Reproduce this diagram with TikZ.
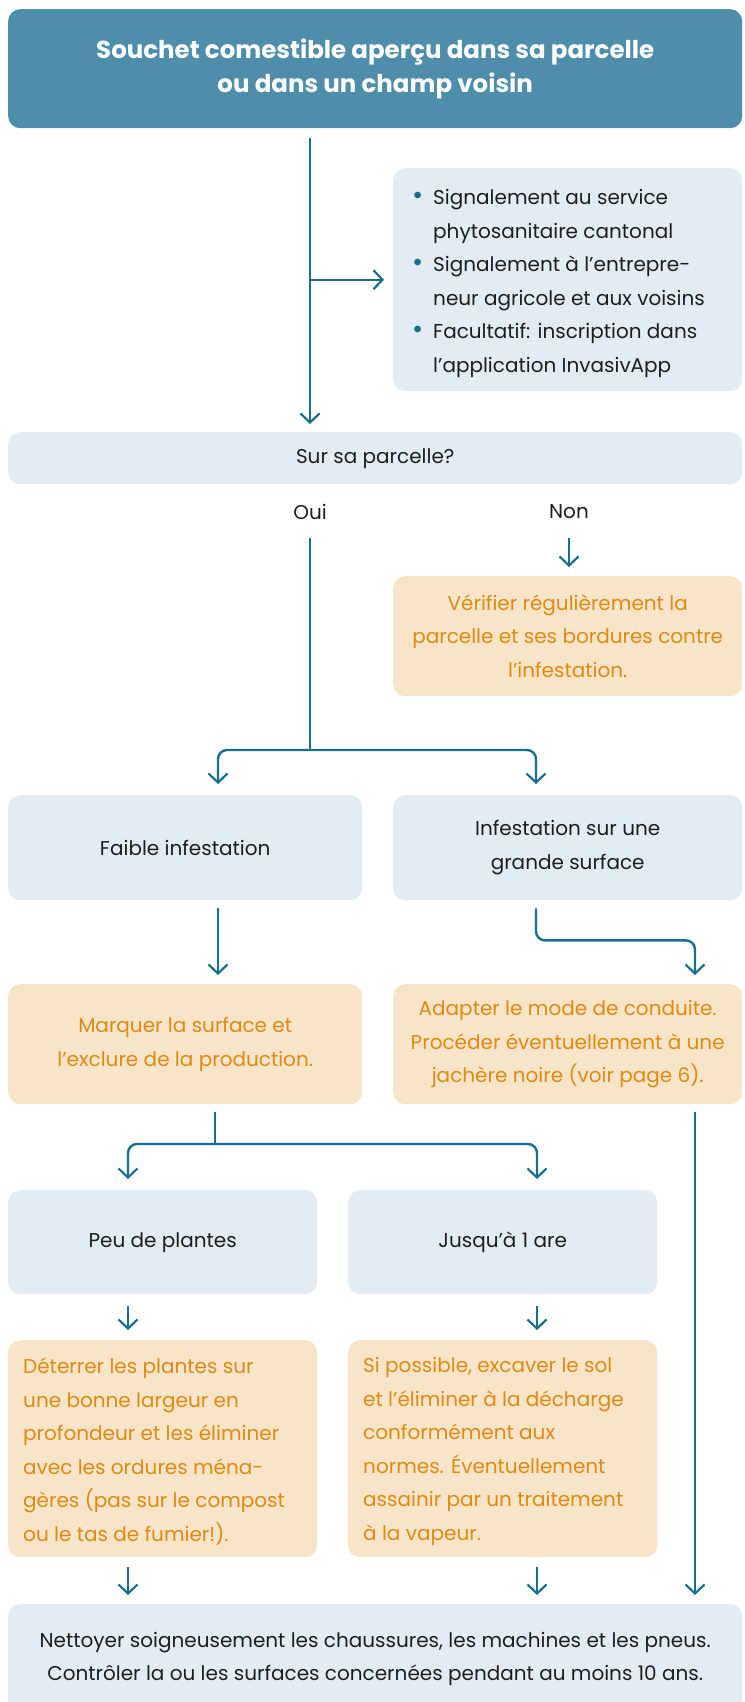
\documentclass[tikz,border=0pt]{standalone}
\usepackage{fontspec}
\setmainfont{Poppins}
\usetikzlibrary{arrows.meta}
\definecolor{linec}{RGB}{22,111,140}
\definecolor{titlec}{RGB}{78,142,171}
\definecolor{paleblue}{RGB}{228,236,243}
\definecolor{paleorange}{RGB}{248,228,200}
\definecolor{orangetxt}{RGB}{224,138,18}
\definecolor{darktxt}{RGB}{30,30,30}
\newcommand{\bodyfont}{\fontsize{20}{33.5}\selectfont}
\newcommand{\titlefont}{\fontsize{24.5}{34}\selectfont\bfseries}
\newcommand{\blt}{\makebox[20pt][l]{\hspace*{-1pt}\textcolor{linec}{\scalebox{1.35}{•}}}}
\newcommand{\ind}{\hspace*{20pt}}
\begin{document}
\begin{tikzpicture}[x=1pt,y=-1pt,
  box/.style={rounded corners=12pt, inner sep=0pt, anchor=north west, font=\bodyfont, align=center},
  bluebox/.style={box, fill=paleblue, text=darktxt},
  orangebox/.style={box, fill=paleorange, text=orangetxt},
  titlebox/.style={box, fill=titlec, text=white, font=\titlefont},
  lbl/.style={font=\bodyfont, text=darktxt, inner sep=0pt},
  link/.style={draw=linec, line width=2.4pt, rounded corners=9pt},
  arr/.style={link, -{Straight Barb[length=9pt,width=19pt,line width=2.2pt]}}]
\useasboundingbox (0,0) rectangle (744,1702);
\clip (0,0) rectangle (744,1702);

\coordinate (cT) at (310,0);
\coordinate (cA) at (218,0);
\coordinate (cB) at (536,0);
\coordinate (cC) at (128,0);
\coordinate (cD) at (537,0);
\coordinate (cE) at (695,0);

\node[titlebox, minimum width=734pt, minimum height=119pt] (title) at (8,9)
  {Souchet comestible aperçu dans sa parcelle\\ou dans un champ voisin};

\node[bluebox, minimum width=349pt, minimum height=223pt] (signal) at (393,168) {};
\node[lbl, anchor=west, align=left] (signaltxt) at (413,283.5)
  {\blt Signalement au service\\ \ind phytosanitaire cantonal\\ \blt Signalement à l’entrepre-\\ \ind neur agricole et aux voisins\\ \blt Facultatif: inscription dans\\ \ind l’application InvasivApp};

\node[bluebox, minimum width=734pt, minimum height=52pt] (sur) at (8,432) {Sur sa parcelle?};

\node[lbl] (oui) at (310,512) {Oui};
\node[lbl] (non) at (569,512) {Non};

\node[orangebox, minimum width=349pt, minimum height=120pt] (verif) at (393,576)
  {Vérifier régulièrement la\\parcelle et ses bordures contre\\l’infestation.};

\node[bluebox, minimum width=354pt, minimum height=105pt] (faible) at (8,795) {Faible infestation};
\node[bluebox, minimum width=349pt, minimum height=105pt] (infest) at (393,795) {Infestation sur une\\grande surface};

\node[orangebox, minimum width=354pt, minimum height=120pt] (marquer) at (8,984)
  {Marquer la surface et\\l’exclure de la production.};
\node[orangebox, minimum width=349pt, minimum height=120pt] (adapter) at (393,984)
  {Adapter le mode de conduite.\\Procéder éventuellement à une\\jachère noire (voir page 6).};

\node[bluebox, minimum width=309pt, minimum height=104pt] (peu) at (8,1190) {Peu de plantes};
\node[bluebox, minimum width=309pt, minimum height=104pt] (jusqu) at (348,1190) {Jusqu’à 1 are};

\node[orangebox, minimum width=309pt, minimum height=217pt] (deterrer) at (8,1340) {};
\node[lbl, text=orangetxt, anchor=west, align=left] (detxt) at (23,1451.5)
  {Déterrer les plantes sur\\une bonne largeur en\\profondeur et les éliminer\\avec les ordures ména-\\gères (pas sur le compost\\ou le tas de fumier!).};
\node[orangebox, minimum width=309pt, minimum height=217pt] (sipos) at (348,1340) {};
\node[lbl, text=orangetxt, anchor=west, align=left] (sitxt) at (363,1451.5)
  {Si possible, excaver le sol\\et l’éliminer à la décharge\\conformément aux\\normes. Éventuellement\\assainir par un traitement\\à la vapeur.};

\node[bluebox, minimum width=734pt, minimum height=110pt] (bottom) at (8,1604)
  {Nettoyer soigneusement les chaussures, les machines et les pneus.\\Contrôler la ou les surfaces concernées pendant au moins 10 ans.};

% connectors
\draw[arr, shorten <=10pt, shorten >=8pt] (title.south -| cT) -- (sur.north -| cT);
\draw[arr, shorten >=9pt] (signal.west -| cT) -- (signal.west);
\draw[arr, shorten <=26pt, shorten >=9pt] (non.center) -- (verif.north -| non);
\coordinate (s1) at (310,750);
\draw[link, shorten <=26pt] (oui.center) -- (s1);
\draw[arr, shorten >=11pt] (s1) -| (faible.north -| cA);
\draw[arr, shorten >=11pt] (s1) -| (infest.north -| cB);
\draw[arr, shorten <=8pt, shorten >=9pt] (faible.south -| cA) -- (marquer.north -| cA);
\draw[arr, shorten <=8pt, shorten >=9pt] (infest.south -| cB) -- ++(0,40) -| (adapter.north -| cE);
\coordinate (s2) at (215,1144);
\draw[link, shorten <=8pt] (marquer.south -| s2) -- (s2);
\draw[arr, shorten >=11pt] (s2) -| (peu.north -| cC);
\draw[arr, shorten >=11pt] (s2) -| (jusqu.north -| cD);
\draw[arr, shorten <=12pt, shorten >=10pt] (peu.south -| cC) -- (deterrer.north -| cC);
\draw[arr, shorten <=12pt, shorten >=10pt] (jusqu.south -| cD) -- (sipos.north -| cD);
\draw[arr, shorten <=10pt, shorten >=9pt] (deterrer.south -| cC) -- (bottom.north -| cC);
\draw[arr, shorten <=10pt, shorten >=9pt] (sipos.south -| cD) -- (bottom.north -| cD);
\draw[arr, shorten <=8pt, shorten >=9pt] (adapter.south -| cE) -- (bottom.north -| cE);
\end{tikzpicture}
\end{document}
